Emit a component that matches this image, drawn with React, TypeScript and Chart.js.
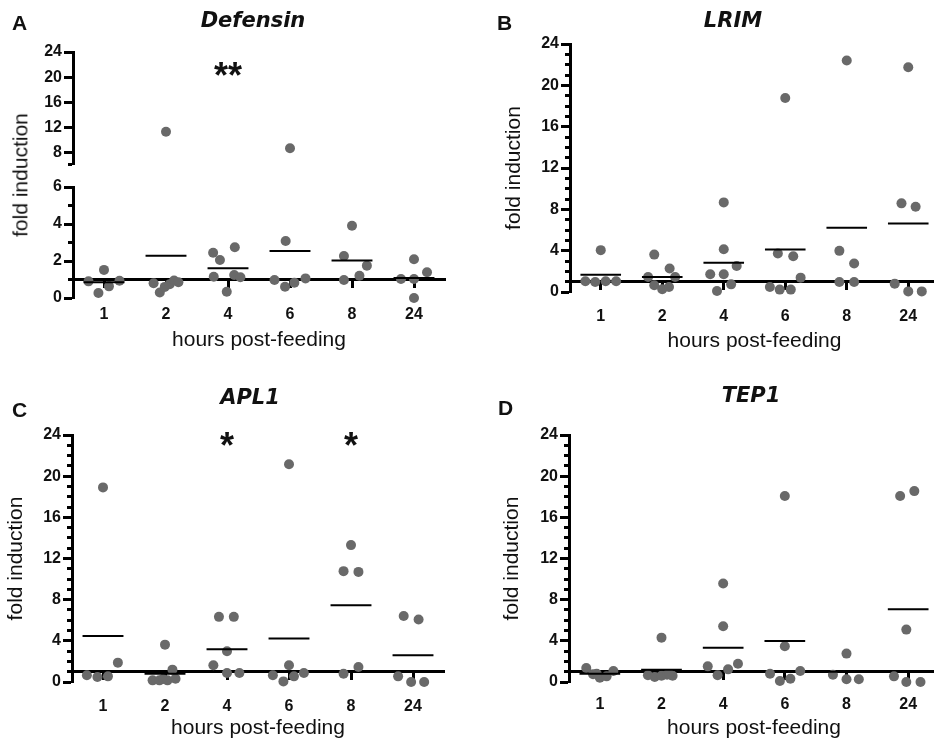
import React, { useEffect, useRef } from 'react';
import { Chart, registerables } from 'chart.js';

Chart.register(...registerables);
Chart.defaults.font.family = '"Liberation Sans", Arial, sans-serif';

// ---------------- data ----------------
const hours = ['1', '2', '4', '6', '8', '24'];

const defensinValues = [
  [0.9, 0.27, 1.52, 0.63, 0.93],
  [11.37, 0.8, 0.3, 0.6, 0.75, 0.95, 0.85],
  [2.45, 2.05, 2.74, 1.15, 1.24, 1.12, 0.34],
  [8.74, 3.08, 0.97, 0.61, 0.83, 1.06],
  [3.91, 2.27, 1.75, 0.97, 1.2],
  [2.09, 1.39, 1.03, 1.03, 0.0],
];
const defensinJitter = [
  [-0.25, -0.09, 0, 0.08, 0.25],
  [0, -0.2, -0.1, -0.02, 0.06, 0.13, 0.2],
  [-0.24, -0.13, 0.11, -0.23, 0.1, 0.2, -0.02],
  [0, -0.07, -0.25, -0.08, 0.07, 0.25],
  [0, -0.13, 0.24, -0.13, 0.12],
  [0, 0.21, -0.21, 0, 0],
];
const defensinMeans = [0.85, 2.28, 1.61, 2.54, 2.03, 1.08];
const defensinSig = ['', '', '**', '', '', ''];
const defensinSigY = 21.6;
const defensinLowerMax = 6;
const defensinUpperMin = 6.25;
const defensinUpperTicks = [8, 12, 16, 20, 24];

const lrimValues = [
  [4.05, 1.04, 0.97, 1.04, 1.04],
  [3.62, 2.27, 1.46, 1.46, 0.65, 0.26, 0.49],
  [8.67, 4.14, 1.72, 1.72, 2.52, 0.1, 0.74],
  [18.77, 3.72, 3.46, 0.49, 0.23, 0.23, 1.39],
  [22.4, 3.98, 2.75, 0.97, 0.97],
  [21.75, 8.58, 8.25, 0.81, 0.06, 0.06],
];
const lrimJitter = [
  [0, -0.25, -0.09, 0.08, 0.25],
  [-0.13, 0.12, -0.23, 0.21, -0.13, 0, 0.11],
  [0, 0, -0.22, 0, 0.21, -0.11, 0.12],
  [0, -0.12, 0.13, -0.25, -0.09, 0.09, 0.25],
  [0, -0.12, 0.12, -0.12, 0.12],
  [0, -0.11, 0.12, -0.22, 0, 0.22],
];
const lrimMeans = [1.68, 1.46, 2.82, 4.11, 6.21, 6.63];

const apl1Values = [
  [18.91, 1.88, 0.65, 0.49, 0.55],
  [3.63, 0.16, 0.16, 0.3, 0.16, 1.2, 0.32],
  [6.33, 6.33, 2.98, 1.62, 0.88, 0.88],
  [21.15, 1.62, 0.65, 0.06, 0.55, 0.88],
  [13.3, 10.77, 10.7, 1.46, 0.81],
  [6.42, 6.07, 0.55, 0.0, 0.0],
];
const apl1Jitter = [
  [0, 0.24, -0.26, -0.09, 0.08],
  [0, -0.2, -0.09, -0.03, 0.04, 0.12, 0.17],
  [-0.13, 0.11, 0, -0.22, 0, 0.2],
  [0, 0, -0.26, -0.09, 0.08, 0.24],
  [0, -0.12, 0.12, 0.12, -0.12],
  [-0.15, 0.09, -0.24, -0.03, 0.18],
];
const apl1Means = [4.48, 0.81, 3.18, 4.22, 7.46, 2.59];
const apl1Sig = ['', '', '*', '', '*', ''];
const apl1SigY = 23.8;

const tep1Values = [
  [1.36, 1.07, 0.75, 0.42, 0.55, 0.8],
  [4.31, 0.65, 0.49, 0.6, 0.7, 0.6, 0.75],
  [9.57, 5.42, 1.78, 1.52, 1.23, 0.65],
  [18.07, 3.47, 0.81, 1.07, 0.1, 0.32],
  [2.76, 0.71, 0.26, 0.26],
  [18.07, 18.55, 5.09, 0.55, 0.0, 0.0],
];
const tep1Jitter = [
  [-0.22, 0.22, -0.11, 0, 0.11, -0.05],
  [0, -0.22, -0.11, 0, 0.09, 0.18, 0.13],
  [0, 0, 0.24, -0.25, 0.08, -0.09],
  [0, 0, -0.24, 0.25, -0.08, 0.09],
  [0, -0.22, 0, 0.2],
  [-0.13, 0.1, -0.03, -0.23, -0.03, 0.2],
];
const tep1Means = [0.81, 1.2, 3.34, 3.99, 1.0, 7.07];

const yTitle = 'fold induction';
const xTitle = 'hours post-feeding';

// ---------------- styles ----------------
const POINT_COLOR = '#696969';
const INK = '#111';
const MEAN_HALF = 0.33;
const TICK_FONT = { size: 16, weight: 'bold' as const };
const TITLE_SIZE = 21;
const TITLE_FONT = { size: TITLE_SIZE };
const TITLE_HALF = (TITLE_SIZE * 1.2) / 2;

type Box = { left: number; top: number; width: number; height: number };
type Area = { left: number; right: number; top: number; bottom: number };
type Spec = {
  letter: string;
  title: string;
  values: number[][];
  jitter: number[][];
  means: number[];
  sig?: string[];
  sigY?: number;
  broken?: boolean;
  canvas: Box;
  area: Area;
  yTitleX: number;
  xTitleY: number;
  xLabelY: number;
  letterPos: { left: number; top: number };
  titlePos: { cx: number; top: number };
};

const sigPlugin = {
  id: 'sig',
  afterDatasetsDraw(chart: any, _args: any, opts: any) {
    if (!opts || !opts.marks) return;
    const xs = chart.scales.x;
    const ys = chart.scales[opts.axis];
    const size = 36;
    const ctx = chart.ctx;
    ctx.save();
    ctx.font = `bold ${size}px "Liberation Sans", Arial, sans-serif`;
    ctx.textAlign = 'center';
    ctx.textBaseline = 'alphabetic';
    ctx.fillStyle = INK;
    opts.marks.forEach((m: string, i: number) => {
      if (!m) return;
      ctx.fillText(m, xs.getPixelForValue(i), ys.getPixelForValue(opts.y) + 0.58 * size);
    });
    ctx.restore();
  },
};
Chart.register(sigPlugin);

function pointData(values: number[][], jitter: number[][], keep: (v: number) => boolean) {
  const pts: { x: number; y: number }[] = [];
  values.forEach((grp, i) =>
    grp.forEach((v, j) => {
      if (keep(v)) pts.push({ x: i + jitter[i][j], y: v });
    })
  );
  return pts;
}

function meanData(means: number[]) {
  return means.flatMap((m, i) => [
    { x: i - MEAN_HALF, y: m },
    { x: i + MEAN_HALF, y: m },
    { x: i + MEAN_HALF, y: null },
  ]);
}

function yAxis(min: number, max: number, step: number, major: (v: number) => boolean, width: number, extra: any = {}) {
  return {
    type: 'linear',
    position: 'left',
    min,
    max,
    ticks: {
      stepSize: step,
      autoSkip: false,
      font: TICK_FONT,
      color: INK,
      padding: 2,
      callback: (v: number) => (major(v) ? String(v) : ''),
    },
    grid: {
      drawOnChartArea: false,
      drawTicks: true,
      tickLength: 9,
      tickWidth: 3,
      tickColor: '#000',
      tickBorderDash: (ctx: any) => (ctx.tick && !major(ctx.tick.value) ? [0, 4, 20, 0] : []),
    },
    border: { display: true, color: '#000', width: 3 },
    afterFit: (s: any) => {
      s.width = width;
    },
    ...extra,
  };
}

function buildConfig(p: Spec) {
  const { canvas: c, area: a } = p;
  const padTop = a.top - c.top;
  const padRight = c.left + c.width - a.right;
  const padLeft = p.broken ? 0 : Math.round(p.yTitleX - TITLE_HALF - c.left);
  const yW = a.left - c.left - padLeft;
  const xH = p.xTitleY + TITLE_HALF - a.bottom;
  const padBottom = c.height - (a.bottom - c.top) - xH;
  const xLabelPad = p.xLabelY - a.bottom - 9.6;

  const pointStyle = {
    pointBackgroundColor: POINT_COLOR,
    pointBorderWidth: 0,
    pointRadius: 5,
    showLine: false,
    clip: false,
  };

  const datasets: any[] = [
    {
      data: meanData(p.means),
      showLine: true,
      borderColor: '#000',
      borderWidth: 2,
      pointRadius: 0,
      spanGaps: false,
      clip: false,
      yAxisID: 'y',
    },
  ];

  const scales: any = {
    x: {
      type: 'linear',
      position: 'bottom',
      min: -0.5,
      max: 5.5,
      afterBuildTicks: (s: any) => {
        s.ticks = hours.map((_, i) => ({ value: i }));
      },
      ticks: {
        autoSkip: false,
        maxRotation: 0,
        font: TICK_FONT,
        color: INK,
        padding: xLabelPad,
        callback: (v: number) => hours[v],
      },
      grid: { display: false, drawTicks: false },
      border: { display: false },
      title: { display: true, text: xTitle, font: TITLE_FONT, color: INK, padding: 0 },
      afterFit: (s: any) => {
        s.height = xH;
      },
    },
    xBase: {
      type: 'linear',
      axis: 'x',
      position: { y: 1 },
      min: -0.5,
      max: 5.5,
      z: 1,
      afterBuildTicks: (s: any) => {
        s.ticks = hours.map((_, i) => ({ value: i }));
      },
      ticks: { display: false },
      grid: { drawOnChartArea: false, drawTicks: true, tickLength: 7, tickWidth: 3, tickColor: '#000' },
      border: { display: true, color: '#000', width: 3 },
      afterFit: (s: any) => {
        s.height = 0;
      },
    },
  };

  if (p.broken) {
    const lowH = a.bottom - 187;
    const gapH = 187 - 164;
    const upH = 164 - a.top;
    scales.y = yAxis(0, defensinLowerMax, 1, (v) => v % 2 === 0, yW, { stack: 'fold', stackWeight: lowH });
    scales.yGap = {
      type: 'linear',
      position: 'left',
      stack: 'fold',
      stackWeight: gapH,
      min: defensinLowerMax,
      max: defensinUpperMin,
      ticks: { display: false },
      grid: { display: false, drawTicks: false },
      border: { display: false },
      afterFit: (s: any) => {
        s.width = yW;
      },
    };
    scales.yUp = yAxis(defensinUpperMin, 24, 4, (v) => v % 4 === 0, yW, {
      stack: 'fold',
      stackWeight: upH,
      afterBuildTicks: (s: any) => {
        s.ticks = [defensinUpperMin, ...defensinUpperTicks].map((v) => ({ value: v }));
      },
    });
    datasets.push({ ...pointStyle, data: pointData(p.values, p.jitter, (v) => v <= defensinLowerMax), yAxisID: 'y' });
    datasets.push({ ...pointStyle, data: pointData(p.values, p.jitter, (v) => v > defensinLowerMax), yAxisID: 'yUp' });
  } else {
    scales.y = yAxis(0, 24, 1, (v) => v % 4 === 0, yW, {
      title: { display: true, text: yTitle, font: TITLE_FONT, color: INK, padding: 0 },
    });
    datasets.push({ ...pointStyle, data: pointData(p.values, p.jitter, () => true), yAxisID: 'y' });
  }

  return {
    type: 'scatter',
    data: { datasets },
    options: {
      responsive: false,
      maintainAspectRatio: false,
      animation: false,
      events: [],
      layout: { padding: { left: padLeft, right: padRight, top: padTop, bottom: padBottom } },
      plugins: {
        legend: { display: false },
        tooltip: { enabled: false },
        sig: p.sig ? { marks: p.sig, y: p.sigY, axis: p.broken ? 'yUp' : 'y' } : {},
      },
      scales,
    },
  } as any;
}

const specs: Spec[] = [
  {
    letter: 'A',
    title: 'Defensin',
    values: defensinValues,
    jitter: defensinJitter,
    means: defensinMeans,
    sig: defensinSig,
    sigY: defensinSigY,
    broken: true,
    canvas: { left: 0, top: 30, width: 470, height: 330 },
    area: { left: 73, right: 445, top: 52, bottom: 298 },
    yTitleX: 20,
    xTitleY: 340,
    xLabelY: 315,
    letterPos: { left: 12, top: 12 },
    titlePos: { cx: 253, top: 10 },
  },
  {
    letter: 'B',
    title: 'LRIM',
    values: lrimValues,
    jitter: lrimJitter,
    means: lrimMeans,
    canvas: { left: 464, top: 20, width: 480, height: 340 },
    area: { left: 570, right: 942, top: 44, bottom: 292 },
    yTitleX: 515,
    xTitleY: 341,
    xLabelY: 317,
    letterPos: { left: 497, top: 12 },
    titlePos: { cx: 733, top: 10 },
  },
  {
    letter: 'C',
    title: 'APL1',
    values: apl1Values,
    jitter: apl1Jitter,
    means: apl1Means,
    sig: apl1Sig,
    sigY: apl1SigY,
    canvas: { left: 0, top: 410, width: 470, height: 330 },
    area: { left: 72, right: 444, top: 435, bottom: 682 },
    yTitleX: 17,
    xTitleY: 728,
    xLabelY: 707,
    letterPos: { left: 12, top: 399 },
    titlePos: { cx: 250, top: 387 },
  },
  {
    letter: 'D',
    title: 'TEP1',
    values: tep1Values,
    jitter: tep1Jitter,
    means: tep1Means,
    canvas: { left: 464, top: 410, width: 480, height: 330 },
    area: { left: 569, right: 941, top: 435, bottom: 682 },
    yTitleX: 513,
    xTitleY: 728,
    xLabelY: 705,
    letterPos: { left: 498, top: 397 },
    titlePos: { cx: 751, top: 385 },
  },
];

function Panel({ spec }: { spec: Spec }) {
  const ref = useRef<HTMLCanvasElement>(null);
  useEffect(() => {
    if (!ref.current) return;
    const chart = new Chart(ref.current, buildConfig(spec));
    return () => chart.destroy();
  }, [spec]);
  const c = spec.canvas;
  return (
    <>
      <canvas
        ref={ref}
        width={c.width}
        height={c.height}
        style={{ position: 'absolute', left: c.left, top: c.top, width: c.width, height: c.height }}
      />
      <div
        style={{
          position: 'absolute',
          left: spec.letterPos.left,
          top: spec.letterPos.top,
          font: 'bold 21px "Liberation Sans", Arial, sans-serif',
          lineHeight: '21px',
          color: INK,
        }}
      >
        {spec.letter}
      </div>
      <div
        style={{
          position: 'absolute',
          left: spec.titlePos.cx,
          top: spec.titlePos.top,
          transform: 'translateX(-50%)',
          font: 'italic bold 21px "DejaVu Sans", sans-serif',
          lineHeight: '21px',
          whiteSpace: 'nowrap',
          color: INK,
        }}
      >
        {spec.title}
      </div>
      {spec.broken ? (
        <div
          style={{
            position: 'absolute',
            left: spec.yTitleX,
            top: 175,
            transform: 'translate(-50%, -50%) rotate(-90deg)',
            font: `${TITLE_SIZE}px "Liberation Sans", Arial, sans-serif`,
            lineHeight: `${TITLE_SIZE * 1.2}px`,
            whiteSpace: 'nowrap',
            color: INK,
          }}
        >
          {yTitle}
        </div>
      ) : null}
    </>
  );
}

export default function App() {
  return (
    <div
      style={{
        position: 'fixed',
        left: 0,
        top: 0,
        width: 934,
        height: 740,
        overflow: 'hidden',
        background: '#fff',
      }}
    >
      {specs.map((s) => (
        <Panel key={s.letter} spec={s} />
      ))}
    </div>
  );
}
